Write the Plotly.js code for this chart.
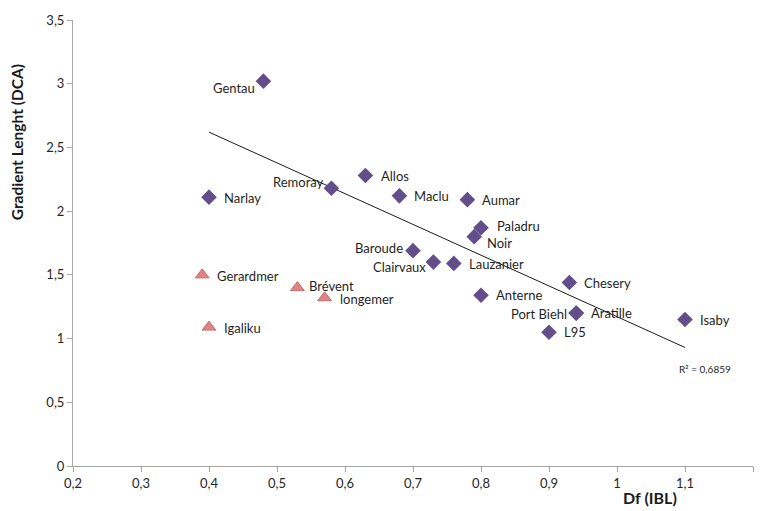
<!DOCTYPE html>
<html><head><meta charset="utf-8">
<script src="https://cdn.plot.ly/plotly-3.0.1.min.js"></script>
<style>html,body{margin:0;padding:0;background:#fff}#c{width:762px;height:511px}</style>
</head><body><div id="c"></div>
<script>
// Lakes (diamonds)
const lakeNames = ["Gentau","Narlay","Remoray","Allos","Maclu","Aumar","Paladru","Noir","Baroude","Clairvaux","Lauzanier","Chesery","Anterne","Port Biehl","Aratille","L95","Isaby"];
const lakeDf    = [0.48,0.40,0.58,0.63,0.68,0.78,0.80,0.79,0.70,0.73,0.76,0.93,0.80,0.94,0.94,0.90,1.10];
const lakeDCA   = [3.02,2.11,2.18,2.28,2.12,2.09,1.87,1.80,1.69,1.60,1.59,1.44,1.34,1.20,1.20,1.05,1.15];
// Other sites (triangles)
const triNames = ["Gerardmer","Brévent","longemer","Igaliku"];
const triDf    = [0.39,0.53,0.57,0.40];
const triDCA   = [1.50,1.40,1.32,1.09];
// Linear trend line endpoints (as drawn)
const trendX = [0.40,1.10];
const trendY = [2.62,0.93];
const r2Text = "R² = 0,6859";

// label placement styles: [xanchor, xshift, yshift]
const lakeLab = {
 "Gentau":["right",-6,-7],"Narlay":["left",13,-1],"Remoray":["right",-5,6],"Allos":["left",14,-1],
 "Maclu":["left",13,0],"Aumar":["left",13,0],"Paladru":["left",14,2],"Noir":["left",11,-6],
 "Baroude":["right",-8,3],"Clairvaux":["right",-5,-5],"Lauzanier":["left",13,-1],"Chesery":["left",13,0],
 "Anterne":["left",13,0],"Port Biehl":["right",-7,-1],"Aratille":["left",13,0],"L95":["left",13,0],"Isaby":["left",13,-1]
};
const triLab = {"Gerardmer":["left",13,-1],"Brévent":["left",10,2],"longemer":["left",13,-1],"Igaliku":["left",13,-1]};

const font = "Lato, 'Open Sans', 'Liberation Sans', sans-serif";
const anns = [];
lakeNames.forEach((n,i)=>{const s=lakeLab[n];anns.push({x:lakeDf[i],y:lakeDCA[i],text:n,showarrow:false,xanchor:s[0],yanchor:"middle",xshift:s[1],yshift:s[2],font:{size:13,color:"#1f1f1f",family:font}});});
triNames.forEach((n,i)=>{const s=triLab[n];anns.push({x:triDf[i],y:triDCA[i],text:n,showarrow:false,xanchor:s[0],yanchor:"middle",xshift:s[1],yshift:s[2],font:{size:13,color:"#1f1f1f",family:font}});});
anns.push({x:trendX[1],y:trendY[1],text:r2Text,showarrow:false,xanchor:"left",yanchor:"top",xshift:-8,yshift:-14,font:{size:10,color:"#262626",family:font}});
anns.push({xref:"paper",yref:"paper",x:-0.083,y:0.725,text:"<b>Gradient Lenght (DCA)</b>",textangle:-90,showarrow:false,xanchor:"center",yanchor:"middle",font:{size:15.5,color:"#1a1a1a",family:font}});
anns.push({xref:"paper",yref:"paper",x:0.848,y:-0.07,text:"<b>Df (IBL)</b>",showarrow:false,xanchor:"center",yanchor:"middle",font:{size:16,color:"#1a1a1a",family:font}});

const data = [
 {x:trendX,y:trendY,mode:"lines",type:"scatter",line:{color:"#1a1a1a",width:1},hoverinfo:"skip"},
 {x:lakeDf,y:lakeDCA,mode:"markers",type:"scatter",marker:{symbol:"diamond",size:12,color:"#634E8C",line:{width:0}}},
 {x:triDf,y:triDCA,mode:"markers",type:"scatter",marker:{symbol:"triangle-up",size:12,color:"#DB8585",line:{color:"#C96A6A",width:1}}}
];
const layout = {
 width:762,height:511,showlegend:false,
 margin:{l:73,r:9,t:20,b:45},
 paper_bgcolor:"#fff",plot_bgcolor:"#fff",
 font:{family:font,size:13,color:"#262626"},
 xaxis:{range:[0.2,1.2],tickvals:[0.2,0.3,0.4,0.5,0.6,0.7,0.8,0.9,1,1.1,1.2],ticktext:["0,2","0,3","0,4","0,5","0,6","0,7","0,8","0,9","1","1,1","1,2"],
   showgrid:false,zeroline:false,showline:true,linecolor:"#A6A6A6",linewidth:1,ticks:"outside",ticklen:5,tickcolor:"#A6A6A6",tickfont:{size:13,color:"#262626"}},
 yaxis:{range:[0,3.5],tickvals:[0,0.5,1,1.5,2,2.5,3,3.5],ticktext:["0","0,5","1","1,5","2","2,5","3","3,5"],
   showgrid:false,zeroline:false,showline:true,linecolor:"#A6A6A6",linewidth:1,ticks:"outside",ticklen:5,tickcolor:"#A6A6A6",tickfont:{size:13,color:"#262626"}},
 annotations:anns
};
Plotly.newPlot("c",data,layout,{displayModeBar:false,staticPlot:true});
</script></body></html>
